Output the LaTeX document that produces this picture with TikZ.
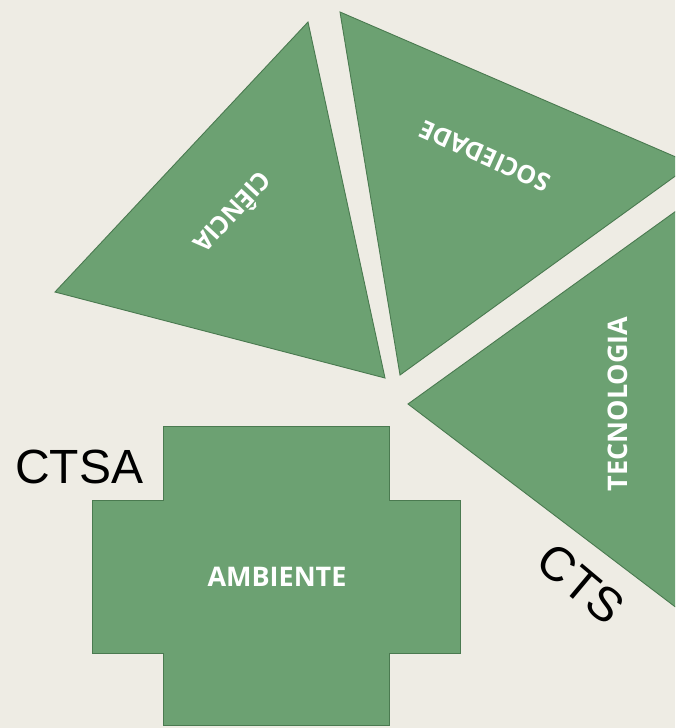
\documentclass[tikz,border=0pt]{standalone}
\usepackage{fontspec}
\setmainfont{Liberation Sans}
\newfontfamily\labfont{Open Sans}
\definecolor{bgc}{RGB}{238,236,228}
\definecolor{tgreen}{RGB}{108,161,114}
\definecolor{tedge}{RGB}{74,122,80}
\begin{document}
\begin{tikzpicture}[x=1pt,y=-1pt,
  piece/.style={fill=tgreen,draw=tedge,line width=0.9pt,line join=miter},
  inlabel/.style={text=white,font=\labfont\bfseries\fontsize{25}{25}\selectfont,inner sep=0pt},
  outlabel/.style={text=black,font=\fontsize{48}{48}\selectfont,inner sep=0pt}]
\useasboundingbox (0,0) rectangle (675,728);
\fill[bgc] (0,0) rectangle (675,728);
\begin{scope}
\clip (0,0) rectangle (675,728);
% Ciencia
\draw[piece] (308,22) -- (55,292) -- (385,378) -- cycle;
% Sociedade
\draw[piece] (340,12) -- (692,164) -- (400,375) -- cycle;
% Tecnologia
\draw[piece] (408,404) -- (740,165) -- (740,656) -- cycle;
% Ambiente cross
\draw[piece] (163,426) -- (389,426) -- (389,500) -- (460,500) -- (460,653)
  -- (389,653) -- (389,725) -- (163,725) -- (163,653) -- (92,653)
  -- (92,500) -- (163,500) -- cycle;
\end{scope}
\node[inlabel,rotate=227] (ciencia) at (232,212) {CI\smash{Ê}NCIA};
\node[inlabel,rotate=156] (sociedade) at (485,156) {SOCIEDADE};
\node[inlabel,rotate=90,font=\labfont\bfseries\fontsize{27}{27}\selectfont] (tecnologia) at (618,404) {TECNOLOGIA};
\node[inlabel,font=\labfont\bfseries\fontsize{27}{27}\selectfont] (ambiente) at (277,577) {AMBIENTE};
\node[outlabel,anchor=base west] (ctsa) at (15,483) {CTSA};
\node[outlabel,rotate=-40] (cts) at (581,584) {CTS};
\end{tikzpicture}
\end{document}
